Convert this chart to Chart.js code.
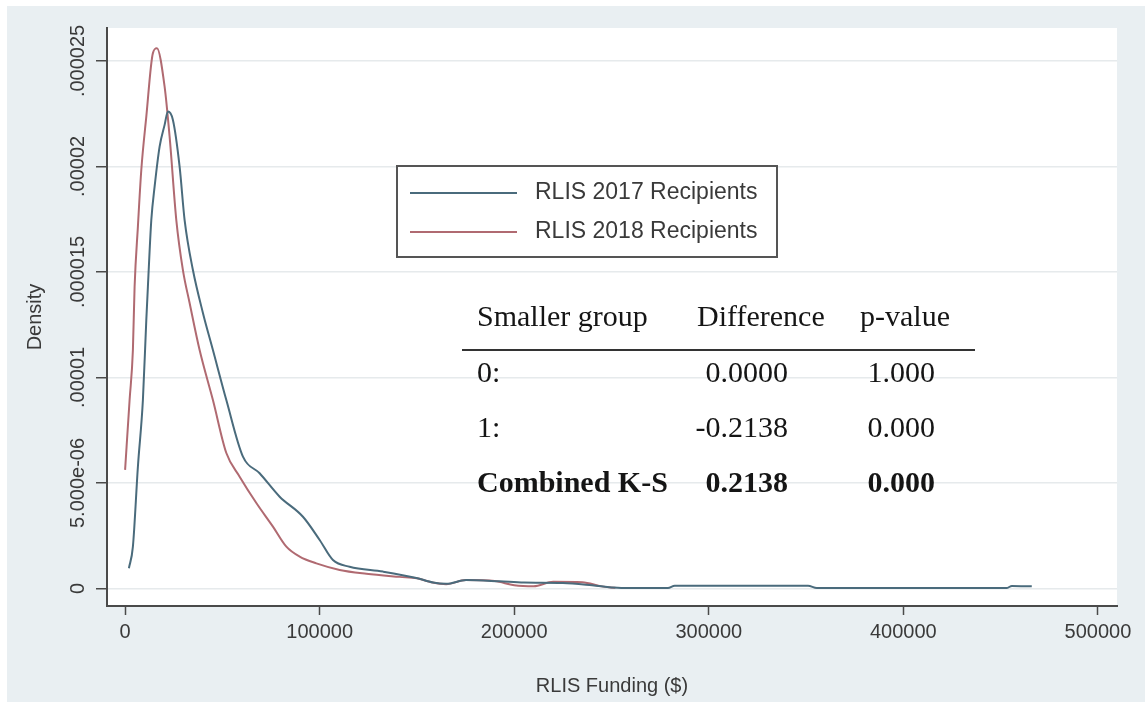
<!DOCTYPE html>
<html>
<head>
<meta charset="utf-8">
<script src="https://cdn.jsdelivr.net/npm/chart.js@4.4.1/dist/chart.umd.min.js"></script>
<style>
  html, body { margin: 0; padding: 0; background: #ffffff; }
  #wrap { position: absolute; left: 0; top: 0; width: 1145px; height: 702px; }
</style>
</head>
<body>
<div id="wrap"><canvas id="chart" width="1145" height="702"></canvas></div>
<script>
// --- data ---
const xs2017 = [1954, 4010, 6580, 9150, 10900, 11720, 13470, 15170, 17740, 20310, 22010, 24580, 28020, 30590,
    34860, 40000, 45140, 52030, 60570, 69150, 79430, 91410, 100000, 106840, 115400, 132500, 149700, 158300,
    165000, 175400, 192500, 205000, 225000, 240000, 250000, 255000, 279000, 282500, 351000, 355500, 453000,
    455800, 466000];
const dens2017 = [0.96e-6, 1.98e-6, 5.77e-6, 8.93e-6, 12.72e-6, 14.30e-6, 17.46e-6, 19.04e-6, 20.94e-6, 21.97e-6,
    22.60e-6, 22.20e-6, 19.99e-6, 17.46e-6, 15.09e-6, 13.06e-6, 11.30e-6, 8.93e-6, 6.25e-6, 5.46e-6, 4.35e-6,
    3.40e-6, 2.30e-6, 1.35e-6, 1.03e-6, 0.80e-6, 0.50e-6, 0.28e-6, 0.22e-6, 0.40e-6, 0.34e-6, 0.28e-6, 0.26e-6,
    0.15e-6, 0.05e-6, 0.02e-6, 0.02e-6, 0.13e-6, 0.13e-6, 0.02e-6, 0.02e-6, 0.12e-6, 0.10e-6];

const xs2018 = [0, 2314, 4010, 4884, 6580, 8329, 10900, 14290, 16350, 20310, 22880, 26320, 29720, 33160, 38300,
    45140, 52030, 58870, 67460, 75990, 82880, 89720, 98300, 110290, 124000, 141130, 150000, 158000, 165000,
    175000, 190000, 200000, 210000, 220000, 235000, 245000, 252000];
const dens2018 = [5.62e-6, 8.93e-6, 11.30e-6, 14.30e-6, 17.15e-6, 19.83e-6, 22.36e-6, 25.37e-6, 25.60e-6, 23.78e-6,
    21.41e-6, 17.46e-6, 15.09e-6, 13.53e-6, 11.30e-6, 8.93e-6, 6.42e-6, 5.30e-6, 4.05e-6, 2.93e-6, 1.98e-6,
    1.51e-6, 1.19e-6, 0.88e-6, 0.70e-6, 0.55e-6, 0.48e-6, 0.28e-6, 0.20e-6, 0.40e-6, 0.35e-6, 0.15e-6, 0.10e-6,
    0.32e-6, 0.30e-6, 0.10e-6, 0.03e-6];

const seriesNames = ['RLIS 2017 Recipients', 'RLIS 2018 Recipients'];
const xTicks = [0, 100000, 200000, 300000, 400000, 500000];
const yTicks = [0, 5e-6, 1e-5, 1.5e-5, 2e-5, 2.5e-5];
const yTickLabels = ['0', '5.000e-06', '.00001', '.000015', '.00002', '.000025'];

// K-S test table shown inside the plot
const ksHeader = ['Smaller group', 'Difference', 'p-value'];
const ksGroups = ['0:', '1:', 'Combined K-S'];
const ksDiff = ['0.0000', '-0.2138', '0.2138'];
const ksP = ['1.000', '0.000', '0.000'];

// --- styles ---
const BG = '#e9eff2';
const AXIS = '#4a4a4a';
const TEXT = '#3a3a3a';
const BLUE = '#4a6b7c';
const RED = '#b06a71';
const SANS = '"Liberation Sans", Arial, sans-serif';
const SERIF = '"Liberation Serif", "Times New Roman", serif';

const toPoints = (xs, ys) => xs.map((x, i) => ({ x, y: ys[i] }));

const overlay = {
    id: 'overlay',
    beforeDraw(chart) {
        const { ctx, chartArea: a } = chart;
        ctx.save();
        ctx.fillStyle = '#ffffff';
        ctx.fillRect(0, 0, chart.width, chart.height);
        ctx.fillStyle = BG;
        ctx.fillRect(7, 6, chart.width - 7, chart.height - 6);
        ctx.fillStyle = '#ffffff';
        ctx.fillRect(a.left, a.top, a.right - a.left, a.bottom - a.top);
        ctx.restore();
    },
    afterDraw(chart) {
        const { ctx } = chart;
        const y = chart.scales.y;
        const x = chart.scales.x;
        ctx.save();

        // rotated y tick labels
        ctx.fillStyle = TEXT;
        ctx.font = '20px ' + SANS;
        ctx.textAlign = 'center';
        ctx.textBaseline = 'middle';
        yTicks.forEach((v, i) => {
            ctx.save();
            ctx.translate(78, y.getPixelForValue(v));
            ctx.rotate(-Math.PI / 2);
            ctx.fillText(yTickLabels[i], 0, 0);
            ctx.restore();
        });

        // axis titles
        ctx.save();
        ctx.translate(35, (y.top + y.bottom) / 2);
        ctx.rotate(-Math.PI / 2);
        ctx.fillText('Density', 0, 0);
        ctx.restore();
        ctx.fillText('RLIS Funding ($)', (x.left + x.right) / 2, 686);

        // legend
        ctx.fillStyle = '#ffffff';
        ctx.fillRect(397, 166, 380, 91);
        ctx.strokeStyle = '#555555';
        ctx.lineWidth = 2;
        ctx.strokeRect(397, 166, 380, 91);
        const legendY = [193, 232];
        chart.data.datasets.forEach((ds, i) => {
            ctx.strokeStyle = ds.borderColor;
            ctx.lineWidth = 2;
            ctx.beginPath();
            ctx.moveTo(410, legendY[i]);
            ctx.lineTo(517, legendY[i]);
            ctx.stroke();
            ctx.fillStyle = TEXT;
            ctx.font = '23px ' + SANS;
            ctx.textAlign = 'left';
            ctx.fillText(ds.label, 535, legendY[i]);
        });

        // K-S table
        ctx.fillStyle = '#151515';
        ctx.font = '30px ' + SERIF;
        ctx.textAlign = 'left';
        ctx.fillText(ksHeader[0], 477, 318);
        ctx.fillText(ksHeader[1], 697, 318);
        ctx.fillText(ksHeader[2], 860, 318);
        ctx.strokeStyle = '#333333';
        ctx.lineWidth = 2;
        ctx.beginPath();
        ctx.moveTo(462, 350);
        ctx.lineTo(975, 350);
        ctx.stroke();
        const rowY = [374, 429, 484];
        ksGroups.forEach((g, i) => {
            ctx.font = (i === 2 ? 'bold ' : '') + '30px ' + SERIF;
            ctx.textAlign = 'left';
            ctx.fillText(g, 477, rowY[i]);
            ctx.textAlign = 'right';
            ctx.fillText(ksDiff[i], 788, rowY[i]);
            ctx.fillText(ksP[i], 935, rowY[i]);
        });
        ctx.restore();
    }
};

new Chart(document.getElementById('chart'), {
    type: 'line',
    data: {
        datasets: [
            { label: seriesNames[0], data: toPoints(xs2017, dens2017), borderColor: BLUE, borderWidth: 2, pointRadius: 0, cubicInterpolationMode: 'monotone' },
            { label: seriesNames[1], data: toPoints(xs2018, dens2018), borderColor: RED, borderWidth: 2, pointRadius: 0, cubicInterpolationMode: 'monotone' }
        ]
    },
    options: {
        responsive: false,
        animation: false,
        devicePixelRatio: 1,
        layout: { padding: { top: 28, right: 28, left: 0, bottom: 0 } },
        plugins: { legend: { display: false }, tooltip: { enabled: false } },
        scales: {
            x: {
                type: 'linear',
                min: -9300,
                max: 509800,
                afterFit(scale) { scale.height = 96; },
                afterBuildTicks(scale) { scale.ticks = xTicks.map(v => ({ value: v })); },
                border: { color: AXIS, width: 2 },
                grid: { drawOnChartArea: false, drawTicks: true, tickLength: 9, tickColor: AXIS, tickWidth: 1.5 },
                ticks: {
                    color: TEXT,
                    font: { family: SANS, size: 20 },
                    padding: 5,
                    maxRotation: 0,
                    callback: v => String(v)
                }
            },
            y: {
                type: 'linear',
                min: -8.3e-7,
                max: 2.656e-5,
                afterFit(scale) { scale.width = 107; },
                afterBuildTicks(scale) { scale.ticks = yTicks.map(v => ({ value: v })); },
                border: { color: AXIS, width: 2 },
                grid: { color: '#e6eaec', lineWidth: 1.5, drawTicks: true, tickLength: 11, tickColor: AXIS, tickWidth: 1.5 },
                ticks: { display: false }
            }
        }
    },
    plugins: [overlay]
});
</script>
</body>
</html>
